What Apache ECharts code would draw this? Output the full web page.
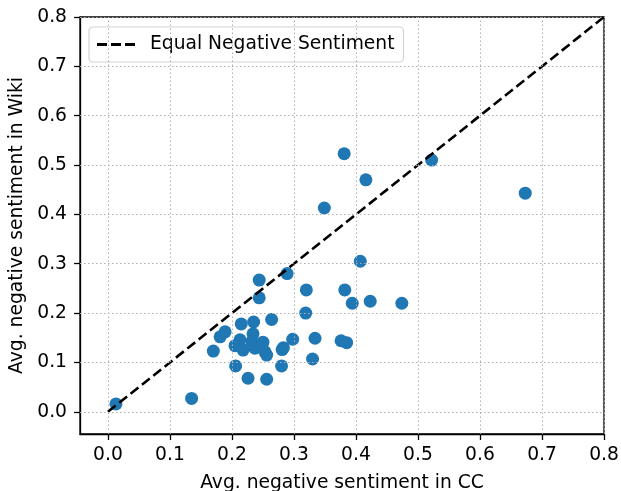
<!DOCTYPE html>
<html><head><meta charset="utf-8">
<script src="https://cdn.jsdelivr.net/npm/echarts@6/dist/echarts.min.js"></script>
<style>html,body{margin:0;padding:0;background:#fff}#c{width:621px;height:491px}</style>
</head><body><div id="c"></div>
<script>
const ccValues = [0.013,0.135,0.170,0.181,0.189,0.215,0.235,0.264,0.234,0.213,0.205,0.218,0.232,0.250,0.237,0.253,0.256,0.281,0.283,0.206,0.226,0.256,0.280,0.244,0.244,0.289,0.298,0.320,0.319,0.334,0.330,0.376,0.385,0.382,0.394,0.423,0.474,0.407,0.349,0.381,0.416,0.522,0.673];
const wikiValues = [0.016,0.027,0.123,0.152,0.162,0.178,0.182,0.187,0.158,0.146,0.134,0.125,0.142,0.141,0.129,0.122,0.115,0.126,0.130,0.093,0.068,0.066,0.093,0.267,0.231,0.280,0.147,0.247,0.200,0.149,0.107,0.144,0.140,0.247,0.220,0.224,0.220,0.305,0.413,0.523,0.470,0.510,0.443];
const equalLineX = [0, 0.8];
const equalLineY = [0, 0.8];
const tickValues = [0.0,0.1,0.2,0.3,0.4,0.5,0.6,0.7,0.8];
const seriesName = 'Equal Negative Sentiment';
const xLabel = 'Avg. negative sentiment in CC';
const yLabel = 'Avg. negative sentiment in Wiki';

const font = 'DejaVu Sans';
const FS = 18.7;
const chart = echarts.init(document.getElementById('c'), null, {renderer:'canvas'});
const axisCommon = {
  type:'value', min:-0.045, max:0.8,
  axisLine:{show:true,onZero:false,lineStyle:{color:'#000',width:1.3}},
  axisTick:{show:true,inside:false,length:6,customValues:tickValues,lineStyle:{color:'#000',width:1.3}},
  axisLabel:{customValues:tickValues,color:'#000',fontFamily:font,fontSize:FS,formatter:v=>v.toFixed(1)},
  splitLine:{show:false},
  nameLocation:'middle',
  nameTextStyle:{color:'#000',fontFamily:font,fontSize:FS}
};
const gridStyle = {color:'#b0b0b0',width:1,type:[1.5,2.5]};
chart.setOption({
  animation:false,
  backgroundColor:'#fff',
  grid:{left:80,right:17,top:17,bottom:57,show:true,borderColor:'#000',borderWidth:1.3,
    outerBoundsMode:'none',containLabel:false},
  xAxis:Object.assign({},axisCommon,{name:xLabel,nameGap:40,
    axisLabel:Object.assign({},axisCommon.axisLabel,{margin:12})}),
  yAxis:Object.assign({},axisCommon,{name:yLabel,nameGap:45,
    axisLabel:Object.assign({},axisCommon.axisLabel,{margin:13})}),
  legend:{
    left:89, top:27, orient:'vertical',
    data:[{name:seriesName,icon:'path://M0,0h10v3h-10z M14,0h10v3h-10z M28,0h10v3h-10z'}],
    symbolKeepAspect:true,
    backgroundColor:'#fff', borderColor:'#d3d3d3', borderWidth:1.2, borderRadius:4,
    padding:[8,9,8,8], itemWidth:38, itemHeight:3, itemGap:5,
    itemStyle:{color:'#000'},
    textStyle:{color:'#000',fontFamily:font,fontSize:FS,padding:[0,0,0,10]}
  },
  series:[
    {
      type:'line', name:'gridX', silent:true, data:[], z:0,
      markLine:{symbol:'none',silent:true,label:{show:false},lineStyle:gridStyle,
        data:tickValues.map(v=>({xAxis:v}))}
    },
    {
      type:'line', name:'gridY', silent:true, data:[], z:0,
      markLine:{symbol:'none',silent:true,label:{show:false},lineStyle:gridStyle,
        data:tickValues.map(v=>({yAxis:v}))}
    },
    {
      type:'scatter', name:'points', symbolSize:13, z:3,
      itemStyle:{color:'#1f77b4',opacity:1},
      data:ccValues.map((x,i)=>[x,wikiValues[i]])
    },
    {
      type:'line', name:seriesName, symbol:'none', z:4,
      lineStyle:{color:'#000',width:2.6,type:[10,4.5]},
      itemStyle:{color:'#000'},
      data:equalLineX.map((x,i)=>[x,equalLineY[i]])
    }
  ]
});
</script></body></html>
